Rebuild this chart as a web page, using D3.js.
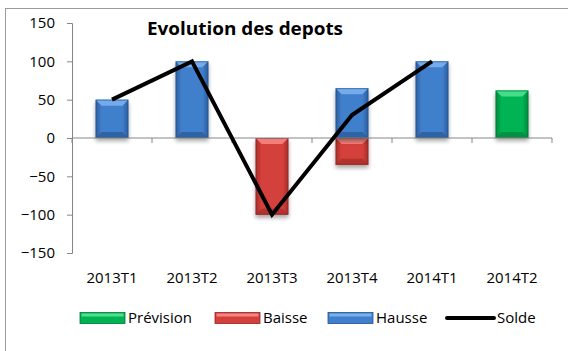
<!DOCTYPE html>
<html>
<head>
<meta charset="utf-8">
<script src="https://cdn.jsdelivr.net/npm/d3@7/dist/d3.min.js"></script>
<style>
  html, body { margin: 0; padding: 0; background: #fff; }
  svg { display: block; font-family: "Open Sans", "Noto Sans", sans-serif; }
</style>
</head>
<body>
<svg id="chart" width="568" height="351"></svg>
<script>
// Quarterly deposit movements
const categories = ["2013T1", "2013T2", "2013T3", "2013T4", "2014T1", "2014T2"];
const hausse    = [50, 100, 0, 65, 100, null];
const baisse    = [0, 0, -100, -35, 0, null];
const prevision = [null, null, null, null, null, 62];
const solde     = [50, 100, -100, 30, 100];
const yTicks    = [-150, -100, -50, 0, 50, 100, 150];
const legendItems = ["Prévision", "Baisse", "Hausse", "Solde"];

const svg = d3.select("#chart");
const plot = { left: 72, right: 552, top: 23, bottom: 253 };

const x = d3.scaleBand().domain(categories).range([plot.left, plot.right]).paddingInner(0.59).paddingOuter(0.295);
const y = d3.scaleLinear().domain([-150, 150]).range([plot.bottom, plot.top]);

const palettes = {
  hausse:    { light: "#7ab0ee", mid: "#3f7fcc", dark: "#2a5c9c", edge: "#24508a" },
  baisse:    { light: "#f58580", mid: "#d43f3a", dark: "#a82e2a", edge: "#8f2522" },
  prevision: { light: "#4ee08f", mid: "#00b352", dark: "#008a3e", edge: "#007634" }
};

const defs = svg.append("defs");
Object.entries(palettes).forEach(([k, p]) => {
  const g = defs.append("linearGradient").attr("id", "grad-" + k).attr("x1", 0).attr("x2", 1).attr("y1", 0).attr("y2", 0);
  g.append("stop").attr("offset", "0%").attr("stop-color", p.dark);
  g.append("stop").attr("offset", "18%").attr("stop-color", p.mid);
  g.append("stop").attr("offset", "82%").attr("stop-color", p.mid);
  g.append("stop").attr("offset", "100%").attr("stop-color", p.dark);
});
const sh = defs.append("filter").attr("id", "shadow").attr("x", "-30%").attr("y", "-30%").attr("width", "160%").attr("height", "170%");
sh.append("feGaussianBlur").attr("in", "SourceAlpha").attr("stdDeviation", 2.2).attr("result", "b");
sh.append("feOffset").attr("in", "b").attr("dx", 0).attr("dy", 3).attr("result", "o");
sh.append("feComponentTransfer").attr("in", "o").attr("result", "s")
  .append("feFuncA").attr("type", "linear").attr("slope", 0.35);
const m = sh.append("feMerge");
m.append("feMergeNode").attr("in", "s");
m.append("feMergeNode").attr("in", "SourceGraphic");

// chart frame
svg.append("rect").attr("x", 5.5).attr("y", 8.5).attr("width", 580).attr("height", 360)
  .attr("fill", "none").attr("stroke", "#9a9a9a").attr("stroke-width", 1);

// y axis
const yAxis = d3.axisLeft(y).tickValues(yTicks).tickSize(5).tickPadding(12);
const gy = svg.append("g").attr("transform", `translate(${plot.left},0)`).call(yAxis);
gy.select(".domain").attr("stroke", "#868686");
gy.selectAll(".tick line").attr("stroke", "#868686");
gy.selectAll(".tick text").attr("font-size", 15).attr("fill", "#000").attr("font-family", "Open Sans, sans-serif");

// bevelled bar
function bar(g, key, cx, v0, v1) {
  if (v1 == null || v0 === v1) return;
  const p = palettes[key];
  const bw = x.bandwidth();
  const x0 = cx - bw / 2;
  const top = Math.min(y(v0), y(v1)), bot = Math.max(y(v0), y(v1));
  const h = bot - top;
  const bv = Math.min(6, h / 3);
  const grp = g.append("g").attr("filter", "url(#shadow)");
  grp.append("rect").attr("x", x0).attr("y", top).attr("width", bw).attr("height", h)
    .attr("fill", `url(#grad-${key})`);
  grp.append("path").attr("d", `M${x0},${top}L${x0 + bw},${top}L${x0 + bw - bv},${top + bv}L${x0 + bv},${top + bv}Z`)
    .attr("fill", p.light).attr("opacity", 0.9);
  grp.append("path").attr("d", `M${x0},${bot}L${x0 + bw},${bot}L${x0 + bw - bv},${bot - bv}L${x0 + bv},${bot - bv}Z`)
    .attr("fill", p.dark).attr("opacity", 0.8);
  grp.append("rect").attr("x", x0 + 0.5).attr("y", top + 0.5).attr("width", bw - 1).attr("height", h - 1)
    .attr("fill", "none").attr("stroke", p.edge).attr("stroke-width", 1).attr("opacity", 0.6);
}

const bars = svg.append("g");
categories.forEach((c, i) => {
  const cx = x(c) + x.bandwidth() / 2;
  bar(bars, "prevision", cx, 0, prevision[i]);
  bar(bars, "baisse", cx, 0, baisse[i]);
  bar(bars, "hausse", cx, 0, hausse[i]);
});

// x axis at zero
const xAxisScale = d3.scalePoint().domain(d3.range(categories.length + 1)).range([plot.left, plot.right]);
const gx = svg.append("g").attr("transform", `translate(0,${y(0)})`);
gx.append("line").attr("x1", plot.left).attr("x2", plot.right).attr("stroke", "#868686");
gx.selectAll("line.t").data(xAxisScale.domain()).join("line").attr("class", "t")
  .attr("x1", d => xAxisScale(d)).attr("x2", d => xAxisScale(d)).attr("y1", 0).attr("y2", 5).attr("stroke", "#868686");

// category labels below the plot
svg.append("g").selectAll("text").data(categories).join("text")
  .attr("x", d => x(d) + x.bandwidth() / 2).attr("y", 278).attr("dy", "0.35em")
  .attr("text-anchor", "middle").attr("font-size", 15).attr("fill", "#000").text(d => d);

// net balance line
const line = d3.line().x((d, i) => x(categories[i]) + x.bandwidth() / 2).y(d => y(d));
svg.append("path").datum(solde).attr("d", line).attr("fill", "none")
  .attr("stroke", "#000").attr("stroke-width", 4).attr("stroke-linejoin", "miter");

// title
svg.append("text").attr("x", 245).attr("y", 29).attr("dy", "0.35em").attr("text-anchor", "middle")
  .attr("font-size", 18).attr("font-weight", "bold").attr("fill", "#000")
  .attr("textLength", 196).attr("lengthAdjust", "spacingAndGlyphs").text("Evolution des depots");

// legend
const legendX = [80, 215, 328, 447];
const lg = svg.append("g");
legendItems.forEach((name, i) => {
  const lx = legendX[i], ly = 318;
  if (name === "Solde") {
    lg.append("line").attr("x1", lx).attr("x2", lx + 47).attr("y1", ly).attr("y2", ly)
      .attr("stroke", "#000").attr("stroke-width", 4).attr("stroke-linecap", "round");
  } else {
    const key = name === "Prévision" ? "prevision" : name === "Baisse" ? "baisse" : "hausse";
    const p = palettes[key];
    lg.append("rect").attr("x", lx).attr("y", ly - 5.5).attr("width", 45).attr("height", 11)
      .attr("fill", p.mid).attr("stroke", p.edge).attr("stroke-width", 0.8);
    lg.append("rect").attr("x", lx + 1.5).attr("y", ly - 4.5).attr("width", 42).attr("height", 3)
      .attr("fill", p.light);
  }
  lg.append("text").attr("x", lx + (name === "Solde" ? 50 : 48)).attr("y", ly).attr("dy", "0.35em")
    .attr("font-size", 15).attr("fill", "#000").text(name);
});
</script>
</body>
</html>
